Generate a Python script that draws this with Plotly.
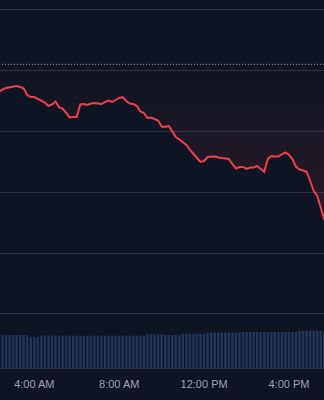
import pandas as pd
import plotly.graph_objects as go

# 10-minute samples starting 02:20
times = pd.date_range("2024-01-02 02:20", periods=93, freq="10min")

prices = [
    136.45, 136.86, 137.11, 137.19, 137.36, 137.44, 137.27, 137.03, 135.96, 135.63,
    135.63, 135.30, 135.06, 134.73, 134.15, 134.40, 134.89, 133.91, 133.74, 133.00,
    132.27, 132.35, 132.35, 134.40, 134.48, 134.32, 134.56, 134.65, 134.56, 134.48,
    134.81, 135.06, 134.81, 135.14, 135.47, 135.63, 134.98, 134.56, 134.48, 134.15,
    133.25, 133.00, 132.18, 132.27, 132.02, 131.77, 130.79, 130.71, 130.87, 130.05,
    129.06, 128.65, 128.16, 127.75, 126.93, 126.19, 125.62, 124.96, 125.12, 125.78,
    125.78, 125.86, 125.70, 125.62, 125.54, 125.45, 124.63, 123.89, 124.14, 124.14,
    123.81, 124.06, 124.06, 124.30, 123.81, 123.32, 125.45, 125.94, 125.86, 125.86,
    126.27, 126.52, 126.11, 125.45, 124.14, 123.73, 123.56, 123.32, 121.84, 120.20,
    119.38, 117.57, 115.44,
]

volumes = [
    986, 990, 982, 988, 984, 986, 990, 983, 986, 936,
    938, 934, 966, 968, 964, 966, 970, 962, 966, 968,
    964, 966, 968, 966, 962, 966, 970, 966, 964, 966,
    968, 966, 962, 966, 968, 966, 964, 966, 970, 966,
    964, 966, 1008, 1010, 1006, 1008, 1008, 986, 988, 984,
    986, 986, 1026, 1028, 1024, 1026, 1028, 1024, 1026, 1056,
    1058, 1054, 1056, 1056, 1058, 1054, 1056, 1056, 1058, 1076,
    1078, 1074, 1076, 1076, 1078, 1074, 1076, 1076, 1078, 1074,
    1076, 1076, 1078, 1074, 1076, 1115, 1117, 1113, 1115, 1115,
    1117, 1113, 1115,
]

prev_close = 141.0

tick_vals = ["2024-01-02 04:00", "2024-01-02 08:00", "2024-01-02 12:00", "2024-01-02 16:00"]
tick_text = ["4:00 AM", "8:00 AM", "12:00 PM", "4:00 PM"]

BG = "#0e1421"
GRID = "#2a3140"
RED = "#ef3e4c"

fig = go.Figure()

fig.add_trace(go.Bar(
    x=times, y=volumes, yaxis="y2",
    marker=dict(color="#25335a", line=dict(width=0)),
    hoverinfo="skip",
))

fig.add_trace(go.Scatter(
    x=times, y=[prev_close] * len(times),
    mode="lines", line=dict(color="#9aa3b2", width=1, dash="1px,2px"),
    hoverinfo="skip",
))

fig.add_trace(go.Scatter(
    x=times, y=prices, mode="lines",
    line=dict(color=RED, width=2),
    fill="tonexty",
    fillgradient=dict(
        type="vertical",
        start=min(prices), stop=prev_close,
        colorscale=[[0, "rgba(239,62,76,0.13)"], [1, "rgba(239,62,76,0.0)"]],
    ),
))

fig.update_layout(
    width=324, height=400,
    margin=dict(l=0, r=0, t=0, b=32),
    paper_bgcolor=BG, plot_bgcolor=BG,
    showlegend=False, bargap=0.3,
    font=dict(family="Liberation Sans, Arial, sans-serif"),
    xaxis=dict(
        type="date",
        range=["2024-01-02 02:23", "2024-01-02 17:39"],
        tickvals=tick_vals, ticktext=tick_text,
        showgrid=False, zeroline=False,
        showline=True, linecolor=GRID, linewidth=1,
        ticks="outside", ticklen=6, tickcolor="rgba(0,0,0,0)",
        tickfont=dict(color="#9ca3af", size=11),
    ),
    yaxis=dict(
        range=[91.13, 151.56], tick0=0, dtick=10,
        showticklabels=False, gridcolor=GRID, gridwidth=1, zeroline=False,
    ),
    yaxis2=dict(
        range=[0, 11000], overlaying="y", visible=False,
    ),
)

fig.write_html("out.html")
